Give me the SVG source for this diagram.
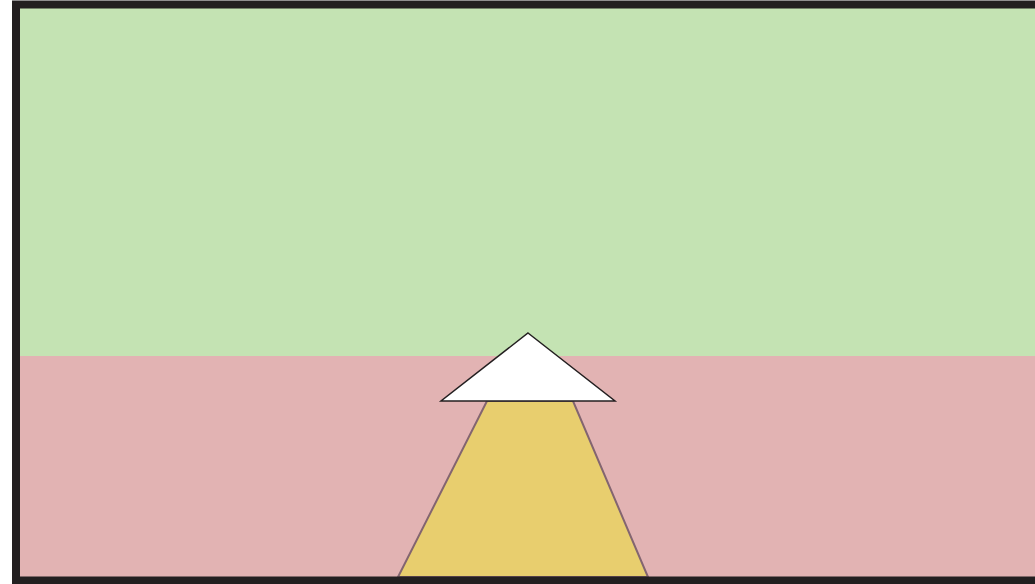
<svg xmlns="http://www.w3.org/2000/svg" width="1035" height="584" viewBox="0 0 1035 584">
<style>
.bg{stroke:none}
.frame{fill:none;stroke:#231f20;stroke-width:8}
</style>
<rect width="1035" height="584" fill="#ffffff"/>
<g id="scene">
<rect class="bg" x="16" y="4" width="1030" height="352" fill="#c4e3b3"/>
<rect class="bg" x="16" y="356" width="1030" height="224" fill="#e2b3b3"/>
<polygon id="path" points="487,401 573,401 648,577 398,577" fill="#e8ce6e" stroke="#836570" stroke-width="2"/>
<polygon id="arrow" points="528,333 615,401 441,401" fill="#ffffff" stroke="#231f20" stroke-width="1.5" stroke-linejoin="miter"/>
<rect class="frame" x="16" y="4.5" width="1040" height="576"/>
</g>
</svg>
